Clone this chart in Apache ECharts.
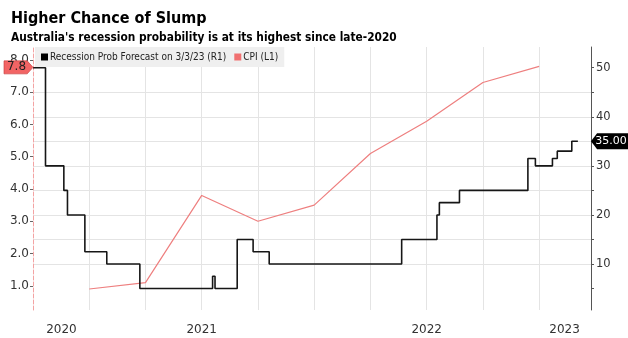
<!DOCTYPE html>
<html>
<head>
<meta charset="utf-8">
<script src="https://cdn.jsdelivr.net/npm/echarts@6/dist/echarts.min.js"></script>
<style>
html,body{margin:0;padding:0;background:#fff;}
#c{width:628px;height:338px;}
</style>
</head>
<body>
<div id="c"></div>
<script>
// ---- data ----
const titleText = 'Higher Chance of Slump';
const subtitleText = "Australia's recession probability is at its highest since late-2020";
const recName = 'Recession Prob Forecast on 3/3/23 (R1)';
const cpiName = 'CPI (L1)';

// recession probability (right axis, %) — value changes on each date
const recDates = ['2020-04-01','2020-04-21','2020-05-21','2020-05-27','2020-06-24','2020-07-30','2020-09-22',
  '2021-01-19','2021-01-23','2021-02-26','2021-03-24','2021-04-19','2021-11-21',
  '2022-01-18','2022-01-22','2022-02-22','2022-06-13','2022-06-25','2022-07-23','2022-07-31','2022-08-24','2022-09-03'];
const recValues = [50,30,25,20,12.5,10,5,7.5,5,15,12.5,10,15,20,22.5,25,31.5,30,31.5,33,35,35];

// CPI y/y (left axis, %)
const cpiDates = ['2020-07-01','2020-10-01','2021-01-01','2021-04-01','2021-07-01','2021-10-01','2022-01-01','2022-04-01','2022-07-01'];
const cpiValues = [0.9,1.1,3.8,3.0,3.5,5.1,6.1,7.3,7.8];

// axis ticks / labels
const xStart = '2020-04-01';
const xEnd = '2022-09-24';
const xLabelPos = ['2020-05-17','2021-01-01','2022-01-01','2022-08-12'];
const xLabelText = ['2020','2021','2022','2023'];
const leftLabels = [1,2,3,4,5,6,7,8];
const rightLabels = [10,20,30,40,50];
const rightTicks = [5,10,15,20,25,30,35,40,45,50];

// ---- helpers ----
function toYear(s){
  const p = s.split('-').map(Number);
  const dim = new Date(p[0], p[1], 0).getDate();
  return p[0] + (p[1]-1 + (p[2]-1)/dim)/12;
}
const recData = recDates.map((d,i)=>[toYear(d), recValues[i]]);
const cpiData = cpiDates.map((d,i)=>[toYear(d), cpiValues[i]]);
const xMin = toYear(xStart), xMax = toYear(xEnd);
const xLabelVals = xLabelPos.map(toYear);

const FONT = 'DejaVu Sans';
const CFONT = '"DejaVu Sans Condensed", "DejaVu Sans"';
const chart = echarts.init(document.getElementById('c'));
chart.setOption({
  animation:false,
  backgroundColor:'#ffffff',
  title:[
    {text:titleText, left:6, top:6, textStyle:{fontFamily:CFONT, fontWeight:'bold', fontSize:16, color:'#000'}},
    {text:subtitleText, left:6, top:27, textStyle:{fontFamily:CFONT, fontWeight:'bold', fontSize:11.8, color:'#000'}}
  ],
  legend:{
    left:35, top:47, padding:[5,6,5,6], itemGap:8, itemWidth:7, itemHeight:7, icon:'rect',
    backgroundColor:'#efefef',
    textStyle:{fontFamily:CFONT, fontSize:10, color:'#222', padding:[0,0,0,-3]},
    data:[recName, cpiName]
  },
  grid:{left:33, right:37, top:47, bottom:28, containLabel:false},
  xAxis:{
    type:'value', min:xMin, max:xMax, interval:0.25,
    axisLine:{show:false}, axisTick:{show:false},
    splitLine:{show:true, showMinLine:false, showMaxLine:false, lineStyle:{color:'#e4e4e4', width:1}},
    axisLabel:{
      customValues:xLabelVals, margin:14, fontFamily:FONT, fontSize:12, color:'#333',
      formatter:function(v){
        let best=0, bd=1e9;
        xLabelVals.forEach((p,i)=>{const d=Math.abs(p-v); if(d<bd){bd=d;best=i;}});
        return xLabelText[best];
      }
    }
  },
  yAxis:[
    {
      type:'value', position:'left', min:0.25, max:8.4,
      splitLine:{show:false},
      axisLine:{show:true, lineStyle:{color:'#f3a3a3', type:'dashed', width:1}},
      axisTick:{show:true, customValues:leftLabels, length:3, lineStyle:{color:'#666'}},
      axisLabel:{customValues:leftLabels, margin:4, fontFamily:FONT, fontSize:12, color:'#333',
        formatter:v=>v.toFixed(1)}
    },
    {
      type:'value', position:'right', min:0.63, max:54.22, splitNumber:5,
      splitLine:{show:true, showMinLine:false, showMaxLine:false, lineStyle:{color:'#e4e4e4', width:1}},
      axisLine:{show:true, lineStyle:{color:'#555', width:1}},
      axisTick:{show:true, customValues:rightTicks, length:3, lineStyle:{color:'#555'}},
      axisLabel:{customValues:rightLabels, margin:5, fontFamily:FONT, fontSize:11.5, color:'#333'}
    }
  ],
  series:[
    {
      name:recName, type:'line', yAxisIndex:1, step:'end', data:recData,
      symbol:'none', lineStyle:{color:'#161616', width:1.6}, itemStyle:{color:'#000'},
      z:3,
      markPoint:{
        silent:true,
        data:[{coord:[xMax, recValues[recValues.length-1]], value:recValues[recValues.length-1].toFixed(2)}],
        symbol:'path://M0,8 L7,0 L46,0 L46,16 L7,16 Z', symbolSize:[40,16], symbolOffset:[20,0],
        itemStyle:{color:'#000'},
        label:{show:true, position:'inside', offset:[0,0], color:'#fff', fontFamily:FONT, fontSize:11, formatter:p=>p.value}
      }
    },
    {
      name:cpiName, type:'line', yAxisIndex:0, data:cpiData,
      symbol:'none', lineStyle:{color:'#ee7f7f', width:1.2}, itemStyle:{color:'#f07070'},
      z:2,
      markPoint:{
        silent:true,
        data:[{coord:[xMin, cpiValues[cpiValues.length-1]], value:cpiValues[cpiValues.length-1].toFixed(1)}],
        symbol:'path://M0,0 L24,0 L30,7 L24,14 L0,14 Z', symbolSize:[29,13], symbolOffset:[-14.5,1],
        itemStyle:{color:'#f26464', borderColor:'#c84040', borderWidth:0.6},
        label:{show:true, position:'inside', offset:[-2,0], color:'#222', fontFamily:FONT, fontSize:12, formatter:p=>p.value}
      }
    }
  ]
});
</script>
</body>
</html>
